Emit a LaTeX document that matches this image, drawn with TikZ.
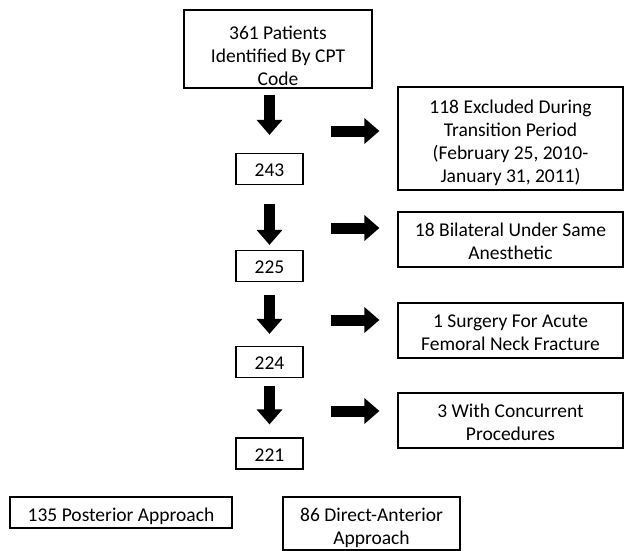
\documentclass[tikz,border=0pt]{standalone}
\usepackage{fontspec}
\setmainfont{Carlito}
\usetikzlibrary{arrows.meta,positioning}
\newcommand{\dropline}[1]{\rule{0pt}{#1}}

\begin{document}
\begin{tikzpicture}[x=1pt,y=-1pt,
  box/.style={draw,line width=1.2pt,align=center,inner sep=0pt,font=\fontsize{19.5}{23}\selectfont},
  countbox/.style={box,minimum width=67pt,minimum height=31pt},
  exbox/.style={box,minimum width=225pt},
  blockarrow/.style={line width=11pt,-{Triangle[length=15pt,width=25pt]}}]
\useasboundingbox[fill=white] (0,0) rectangle (624,551);

\node[box,minimum width=188pt,minimum height=78pt] (start) at (278,49) {\dropline{28pt}361 Patients\\Identified By CPT\\Code};

\node[countbox] (n243) at (269.5,169) {\dropline{15pt}243};
\node[countbox] (n225) at (269.5,266) {\dropline{15pt}225};
\node[countbox] (n224) at (269.5,362) {\dropline{15pt}224};
\node[countbox] (n221) at (269.5,453.5) {\dropline{15pt}221};

\node[exbox,minimum height=103pt] (ex1) at (510.5,138.5) {\dropline{21.5pt}118 Excluded During\\Transition Period\\(February 25, 2010-\\January 31, 2011)};
\node[exbox,minimum height=55pt] (ex2) at (510.5,239.5) {\dropline{16.5pt}18 Bilateral Under Same\\Anesthetic};
\node[exbox,minimum height=55pt] (ex3) at (510.5,330.5) {\dropline{16.5pt}1 Surgery For Acute\\Femoral Neck Fracture};
\node[exbox,minimum height=55pt] (ex4) at (510.5,420.5) {\dropline{16.5pt}3 With Concurrent\\Procedures};

\node[box,minimum width=222pt,minimum height=31pt] (post) at (121,512.5) {\dropline{21pt}135 Posterior Approach};
\node[box,minimum width=177pt,minimum height=53pt] (ant) at (371.5,523.5) {\dropline{23pt}86 Direct-Anterior\\Approach};

\draw[blockarrow,shorten <=6pt,shorten >=18pt] (start.south -| n243.north) -- (n243.north);
\draw[blockarrow,shorten <=19pt,shorten >=5pt] (n243) -- (n225);
\draw[blockarrow,shorten <=13pt,shorten >=12pt] (n225) -- (n224);
\draw[blockarrow,shorten <=8pt,shorten >=13pt] (n224) -- (n221);

\draw[blockarrow,shorten >=18pt] ([xshift=-66pt,yshift=7.5pt]ex1.west) -- ([yshift=7.5pt]ex1.west);
\draw[blockarrow,shorten >=18pt] ([xshift=-66pt,yshift=11.5pt]ex2.west) -- ([yshift=11.5pt]ex2.west);
\draw[blockarrow,shorten >=18pt] ([xshift=-66pt,yshift=10.5pt]ex3.west) -- ([yshift=10.5pt]ex3.west);
\draw[blockarrow,shorten >=18pt] ([xshift=-66pt,yshift=9.5pt]ex4.west) -- ([yshift=9.5pt]ex4.west);
\end{tikzpicture}
\end{document}
